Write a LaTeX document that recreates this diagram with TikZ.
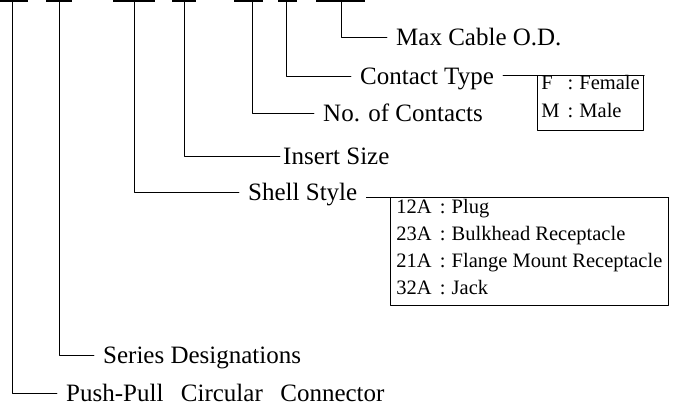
\documentclass[tikz,border=0pt]{standalone}
\usepackage{fontspec}
\setmainfont{Liberation Serif}
\newcommand{\optrow}[2]{#1\hspace{0.4em}:\hspace{0.3em}#2}
\newcommand{\ssstrut}{\rule[-11pt]{0pt}{27pt}}
\newcommand{\fmstrut}{\rule[-13pt]{0pt}{27pt}}

\begin{document}
\begin{tikzpicture}[line cap=round,line join=round,x=1pt,y=1pt,
  bar/.style={line width=2pt,line cap=butt},
  lead/.style={line width=0.8pt},
  lbl/.style={anchor=west,inner xsep=9pt,inner ysep=0pt,text height=16.4pt,text depth=0pt,font=\fontsize{25}{29}\selectfont},
  optbox/.style={draw,line width=0.8pt,anchor=north west,align=left,inner ysep=0pt,font=\fontsize{20.5}{27}\selectfont}]
\useasboundingbox (0,0) rectangle (684,416);
% code fields along the top
\foreach \n/\a/\b/\m in {pp/0/28/12, sd/46/72/59, ss/113/155/134, is/172/196/184, nc/234/263/252, ct/278/297/286, mc/316/365/341}{
  \draw[bar] (\a,415) -- (\b,415);
  \coordinate (f-\n) at (\m,415);
}
\node[lbl] (mc) at (387,379) {Max Cable O.D.};
\node[lbl] (ct) at (351,340) {Contact Type};
\node[lbl] (nc) at (314,303) {No. of Contacts};
\node[lbl,inner xsep=3pt] (is) at (280,260) {Insert Size};
\node[lbl] (ss) at (239,224) {Shell Style};
\node[lbl] (sd) at (94,61) {Series Designations};
\node[lbl] (pp) at (57,23) {Push-Pull\hspace{0.7em}Circular\hspace{0.7em}Connector};
\foreach \n in {pp,sd,ss,is,nc,ct,mc}
  \draw[lead] (f-\n) |- (\n);
% option boxes
\node[optbox,inner xsep=4pt] (fm) at (537,341) {\optrow{\makebox[18pt][l]{F}}{Female}\fmstrut\\ \optrow{\makebox[18pt][l]{M}}{Male}\fmstrut};
\node[optbox,inner xsep=6pt] (st) at (390,219) {\optrow{12A}{Plug}\ssstrut\\ \optrow{23A}{Bulkhead Receptacle}\ssstrut\\ \optrow{21A}{Flange Mount Receptacle}\ssstrut\\ \optrow{32A}{Jack}\ssstrut};
\draw[lead] (ct.east |- fm.north) -- (fm.north east);
\draw[lead] (ss.east |- st.north) -- (st.north east);
\end{tikzpicture}
\end{document}
